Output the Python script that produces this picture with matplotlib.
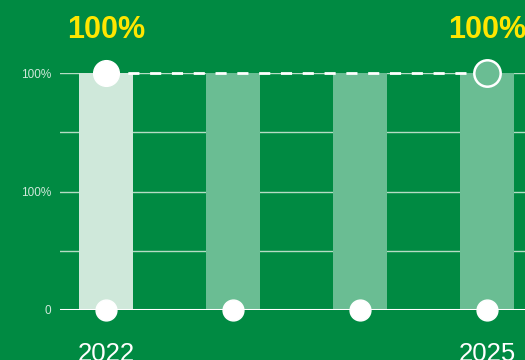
import numpy as np
import matplotlib.pyplot as plt

# Data
years = ['2022', '2023', '2024', '2025']
values = [1.0, 1.0, 1.0, 1.0]
xtick_labels = ['2022', '', '', '2025']
ytick_vals = [0, 0.5, 1.0]
ytick_labels = ['0', '100%', '100%']
grid_vals = [0.25, 0.5, 0.75, 1.0]
top_labels = ['100%', '', '', '100%']

bg = '#008a42'
light = '#cfe8da'
mid = '#6abd93'
yellow = '#ffe600'

plt.rcParams['font.family'] = ['Liberation Sans', 'DejaVu Sans']

fig = plt.figure(figsize=(5.25, 3.6), dpi=100, facecolor=bg)
ax = fig.add_axes([60 / 525, 50 / 360, 1 - 60 / 525, 237 / 360])
ax.set_facecolor(bg)

x = np.arange(len(years))
colors = [light] + [mid] * (len(years) - 1)

for g in grid_vals:
    ax.axhline(g, color='#b5dcc4', lw=1, zorder=1)

ax.bar(x, values, width=0.42, color=colors, zorder=2)
ax.axhline(0, color='white', lw=2.2, zorder=3)

# dashed line across tops
ax.plot([x[0], x[-1]], [values[0], values[-1]], color='white', lw=2,
        ls=(0, (4.0, 3.85)), zorder=3, clip_on=False)

# bottom dots
ax.plot(x, [0] * len(x), 'o', color='white', ms=15, zorder=4, clip_on=False)
# top markers
ax.plot(x[0], values[0], 'o', color='white', ms=18.5, zorder=5, clip_on=False)
ax.plot(x[-1], values[-1], 'o', mfc=mid, mec='white', mew=1.8, ms=19,
        zorder=5, clip_on=False)

for xi, v, t in zip(x, values, top_labels):
    if t:
        ax.annotate(t, (xi, v), xytext=(0, 31), textcoords='offset points',
                    ha='center', va='center', color=yellow, fontsize=22,
                    fontweight='bold', annotation_clip=False)

ax.set_xlim(-0.362, 3.3)
ax.set_ylim(0, 1)
ax.set_xticks(x)
ax.set_xticklabels(xtick_labels, color='white', fontsize=18.5)
ax.set_yticks(ytick_vals)
ax.set_yticklabels(ytick_labels, color=light, fontsize=8.5)
ax.tick_params(axis='x', length=0, pad=23)
ax.tick_params(axis='y', length=0, pad=6.5)
for s in ax.spines.values():
    s.set_visible(False)

fig.savefig('out.png', dpi=100, facecolor=bg)
